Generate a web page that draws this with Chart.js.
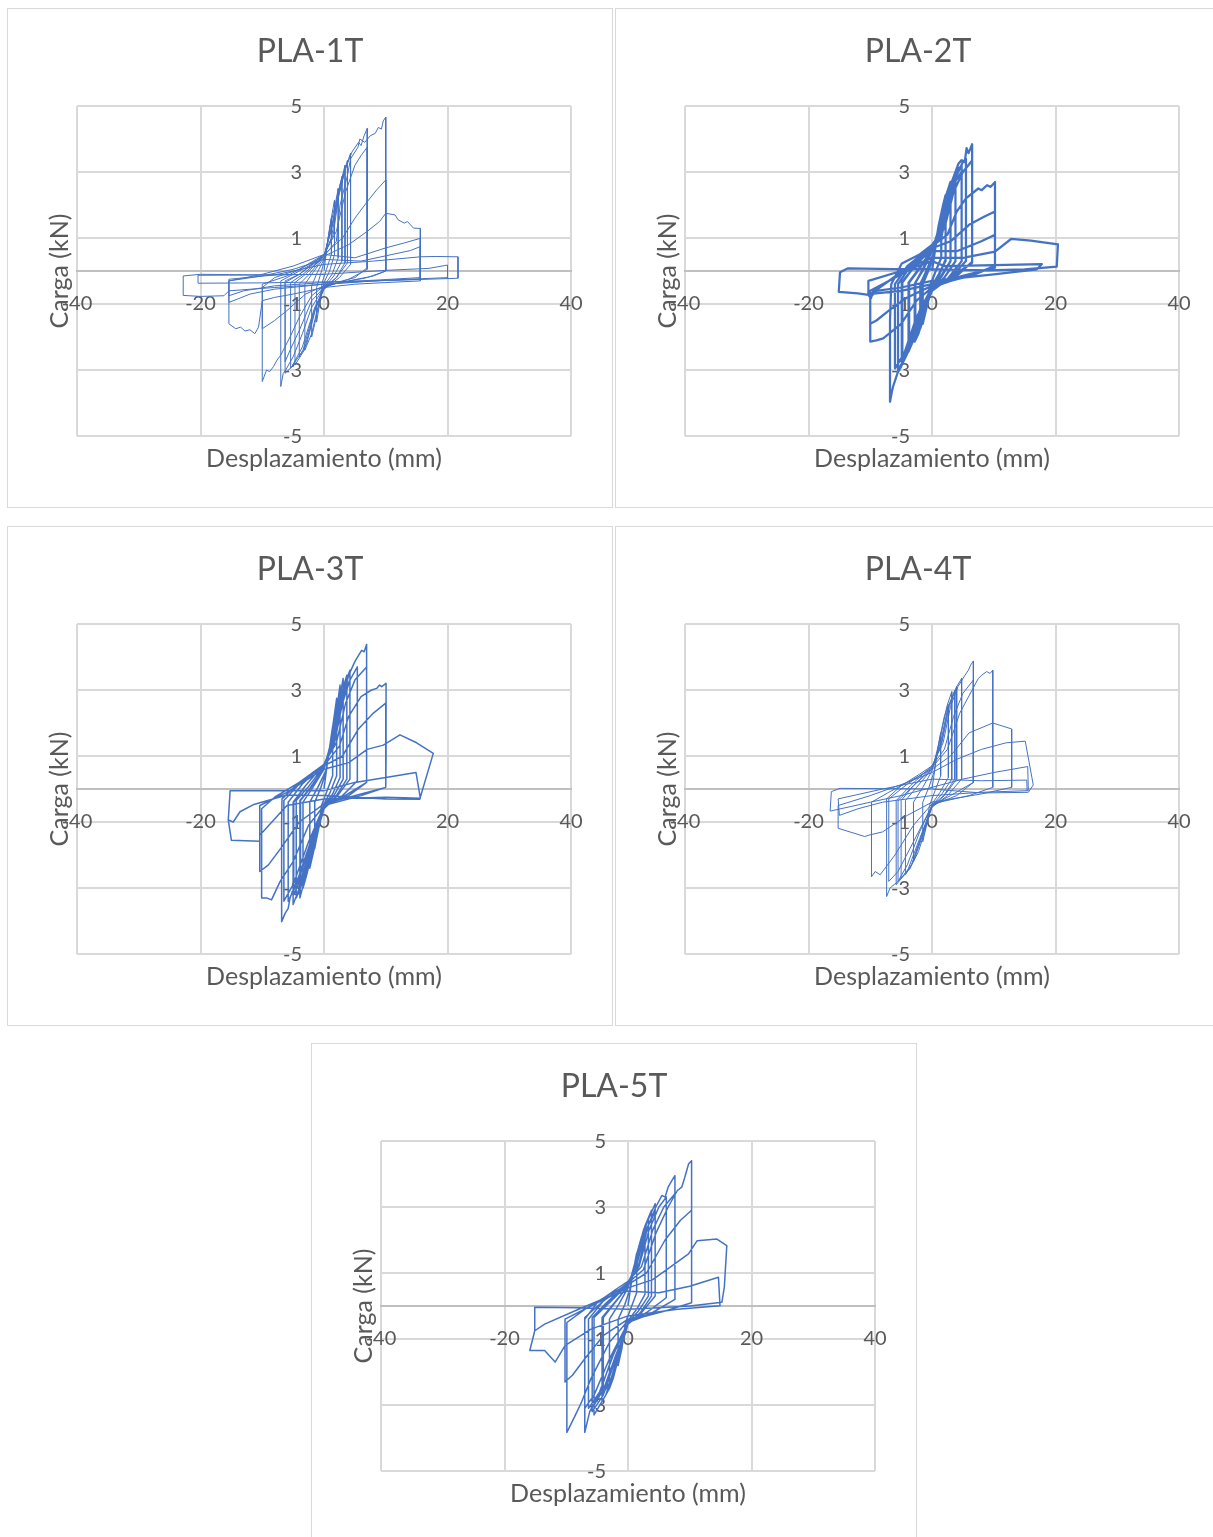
<!DOCTYPE html>
<html>
<head>
<meta charset="utf-8">
<script src="https://cdn.jsdelivr.net/npm/chart.js@4.4.1/dist/chart.umd.min.js"></script>
<style>
  html, body { margin: 0; padding: 0; background: #ffffff; }
  body { width: 1213px; height: 1537px; position: relative; overflow: hidden; }
  .frame { position: absolute; box-sizing: border-box; width: 606px; height: 500px; border: 1.5px solid #d9d9d9; background: #fff; }
  canvas.c { position: absolute; }
</style>
</head>
<body>
<script>
// ---------- data ----------
const chartTitles = ["PLA-1T", "PLA-2T", "PLA-3T", "PLA-4T", "PLA-5T"];
const xAxisTitle = "Desplazamiento (mm)";
const yAxisTitle = "Carga (kN)";
const xTicks = [-40, -20, 0, 20, 40];
const xTickLabels = ["-40", "-20", "0", "20", "40"];
const yTicks = [-5, -3, -1, 1, 3, 5];
const yTickLabels = ["-5", "-3", "-1", "1", "3", "5"];

// [displacement mm, load kN]
const pla1 = [
 [0,0],[0.6,0.9],[1.2,1.6],[1.2,0.5],[0.4,0.05],[-0.3,-0.35],[-0.8,-1.1],[-1.2,-1.55],[-1.2,-0.5],[-0.4,0],[0.2,0.4],
 [0.9,1.3],[1.7,2.15],[1.7,0.5],[0.9,0],[0,-0.35],[-0.8,-1],[-1.5,-1.6],[-2,-2],[-2,-0.45],[-1.1,-0.05],[0,0.35],
 [1.2,1.5],[1.9,2.1],[2.3,2.5],[2.3,0.4],[1.3,-0.1],[0,-0.45],[-1,-1.1],[-2,-1.9],[-3.1,-2.4],[-3.1,-0.4],[-1.8,-0.05],[0,0.4],
 [1.3,1.4],[2.2,2.3],[2.9,2.86],[2.9,0.3],[1.6,-0.15],[0,-0.5],[-1.3,-1.1],[-2.8,-2.2],[-4,-2.6],[-4,-0.4],[-2.4,-0.1],[0,0.45],
 [1.5,1.5],[2.5,2.5],[3.4,3.2],[3.4,0.25],[2,-0.2],[0,-0.55],[-1.5,-1.2],[-3.2,-2.4],[-4.7,-2.85],[-4.7,-0.35],[-3,-0.1],[0,0.45],
 [1.4,1.4],[2.6,2.6],[3.8,3.35],[3.8,0.25],[2,-0.2],[0,-0.5],[-1.6,-1.2],[-3.4,-2.4],[-5.4,-2.95],[-5.4,-0.35],[-3.4,-0.1],[0,0.45],
 [1.2,1],[2.3,2.2],[3.3,3],[4.3,3.57],[4.3,0.2],[2.5,-0.2],[0,-0.55],[-1.5,-1.1],[-3.5,-2.3],[-5.2,-2.9],[-6.3,-3.1],[-6.3,-0.35],[-4,-0.1],[0,0.5],
 [1.5,1.1],[2.4,2.3],[3.5,3.1],[4.5,3.6],[5.6,3.9],[6,3.8],[6.5,4.1],[7,4.32],[7,0.1],[5,-0.2],[2,-0.35],[0,-0.5],[-2,-1.1],[-3.5,-1.9],[-5,-2.6],[-6.2,-3],[-6.6,-3.1],[-7,-3.5],[-7,-0.3],[-5,-0.1],[-2,0.2],[0,0.5],
 [2,1.2],[3.5,2.4],[5,3.2],[6,3.5],[7,3.75],[7,0.05],[4,-0.25],[0,-0.5],[-2,-0.9],[-4,-1.8],[-5.5,-2.4],[-6.3,-2.75],[-6.3,-0.3],[-4,-0.1],[0,0.45],
 [2,0.9],[2.6,2],[3.8,2.9],[4.3,3.4],[5.5,3.75],[5.8,4],[6.6,3.9],[7.5,4.1],[8.3,4.17],[8.8,4.35],[9.3,4.3],[9.6,4.55],[10,4.66],[10,1.9],[10,0],[8,-0.15],[4,-0.3],[0,-0.45],[-2,-0.75],[-4,-1.4],[-5.5,-2],[-7,-2.55],[-7.6,-2.7],[-8.2,-2.9],[-8.8,-3.05],[-9.3,-3],[-10,-3.35],[-10,-0.5],[-8,-0.2],[-4,0.05],[0,0.5],
 [3,1],[5,1.6],[7,2.1],[8.5,2.45],[10,2.76],[10,0],[7,-0.2],[0,-0.45],[-3,-0.7],[-6,-1.2],[-8,-1.5],[-10,-1.75],[-10,-0.4],[-6,-0.15],[0,0.45],
 [4,0.8],[7,1.2],[9,1.5],[10,1.75],[11.5,1.7],[12,1.55],[13,1.45],[13.5,1.5],[14.5,1.3],[15.6,1.29],[15.6,-0.3],[10,-0.35],[5,-0.4],[0,-0.5],[-5,-0.7],[-8,-0.8],[-10,-0.9],[-10.6,-1.7],[-11.2,-1.9],[-12,-1.78],[-12.8,-1.82],[-13.5,-1.7],[-14.3,-1.75],[-15.4,-1.6],[-15.4,-0.3],[-10,-0.1],[-5,0.15],[0,0.5],
 [5,0.4],[10,0.7],[13,0.85],[15.6,0.99],[15.6,-0.25],[8,-0.3],[0,-0.4],[-8,-0.55],[-12,-0.7],[-14,-0.85],[-15.4,-0.95],[-15.4,-0.3],[-10,-0.15],[-5,0.05],[0,0.35],
 [6,0.3],[11,0.5],[14,0.62],[15.6,0.74],[15.6,-0.2],[8,-0.28],[0,-0.35],[-8,-0.45],[-13,-0.6],[-15.4,-0.75],[-15.4,-0.25],[-8,-0.12],[0,0.2],
 [8,0.3],[15.6,0.43],[18,0.44],[21.7,0.43],[21.7,-0.22],[15,-0.26],[8,-0.3],[0,-0.33],[-10,-0.36],[-20.4,-0.37],[-20.4,-0.13],[-10,-0.12],[0,-0.1],[10,0.02],[17,0.08],[20,0.18],[20,-0.2],[10,-0.28],[0,-0.4],[-8,-0.5],[-15.4,-0.6],[-16.2,-0.75],[-20,-0.77],[-22.8,-0.74],[-22.8,-0.15],[-20,-0.1],[-10,-0.12],[0,-0.1]
];

const pla2 = [
 [0,0],[0.7,0.9],[1.5,1.7],[1.5,0.4],[0.5,-0.05],[-0.4,-0.5],[-1,-1.2],[-1.5,-1.6],[-1.5,-0.4],[-0.5,0.05],[0.3,0.5],
 [1.1,1.4],[1.8,2],[2.2,2.3],[2.2,0.35],[1.2,-0.1],[0,-0.45],[-1,-1.2],[-1.9,-1.74],[-1.9,-0.4],[-0.8,0.05],[0.3,0.55],
 [1,1.2],[1.7,1.8],[2.2,2.05],[2.2,0.3],[1.1,-0.1],[0,-0.45],[-0.9,-1],[-1.8,-1.55],[-1.8,-0.35],[-0.7,0.05],[0.3,0.5],
 [1.3,1.5],[2.3,2.3],[3,2.7],[3,0.3],[1.6,-0.15],[0,-0.5],[-1.2,-1.3],[-2.2,-1.9],[-2.8,-2.14],[-2.8,-0.4],[-1.5,0.05],[0,0.6],
 [1.3,1.4],[2.2,2.1],[3,2.45],[3,0.3],[1.5,-0.15],[0,-0.5],[-1.1,-1.1],[-2.1,-1.7],[-2.7,-1.95],[-2.7,-0.35],[-1.4,0.05],[0,0.6],
 [1.2,1.2],[2.4,2.2],[3.2,2.7],[3.8,3],[3.8,0.3],[2,-0.2],[0,-0.55],[-1.5,-1.3],[-2.8,-2],[-3.8,-2.44],[-3.8,-0.35],[-2.2,0.05],[0,0.65],
 [1.3,1.2],[2.4,2],[3.2,2.5],[3.8,2.75],[3.8,0.3],[2,-0.2],[0,-0.55],[-1.4,-1.2],[-2.7,-1.85],[-3.7,-2.25],[-3.7,-0.35],[-2.1,0.05],[0,0.65],
 [1.5,1.2],[2.6,2.3],[3.6,2.9],[4.3,3.1],[4.8,3.2],[4.8,0.3],[2.5,-0.25],[0,-0.6],[-1.8,-1.4],[-3.5,-2.3],[-4.9,-2.85],[-4.9,-0.35],[-3,0.1],[0,0.7],
 [1.6,1.2],[2.7,2.1],[3.7,2.7],[4.8,3],[4.8,0.3],[2.5,-0.25],[0,-0.6],[-1.8,-1.3],[-3.5,-2.1],[-4.8,-2.6],[-4.8,-0.35],[-3,0.1],[0,0.7],
 [1.6,1.1],[2.8,2.2],[4,2.9],[5,3.3],[5.5,3.4],[5.5,0.3],[3,-0.2],[0,-0.55],[-2,-1.4],[-4,-2.5],[-5.5,-3],[-5.5,-0.4],[-3.5,0.15],[0,0.75],
 [1.5,1],[2.8,2.3],[3.8,3],[4.3,3.26],[4.8,3.36],[5.3,3.3],[5.6,3.72],[5.9,3.57],[6.2,3.7],[6.5,3.84],[6.5,1.5],[6.5,0.28],[4,-0.15],[0,-0.5],[-2,-1.2],[-3.8,-2.2],[-5,-2.9],[-5.6,-3.1],[-6.3,-3.5],[-6.5,-3.66],[-6.8,-3.96],[-6.8,-1.5],[-6.6,-0.4],[-4.9,0.23],[-2,0.5],[0,0.79],
 [2,1.3],[3.5,2.4],[5,3],[6.5,3.35],[6.5,0.25],[3,-0.2],[0,-0.5],[-2.5,-1.4],[-4.5,-2.5],[-6,-2.95],[-6,-0.4],[-4,0.15],[0,0.75],
 [2.5,1.1],[4,1.8],[5.5,2.2],[7.5,2.5],[8.05,2.45],[8.9,2.6],[9.5,2.55],[10.2,2.69],[10.2,1],[10.2,0.15],[7,-0.1],[3,-0.3],[0,-0.5],[-2.5,-0.9],[-5,-1.6],[-7.9,-2.04],[-9,-2.1],[-10,-2.14],[-10,-0.8],[-8.7,-0.53],[-4,0.1],[0,0.69],
 [3,0.9],[6,1.4],[8.5,1.65],[10.2,1.8],[10.2,0.15],[6,-0.15],[0,-0.45],[-4,-0.8],[-7,-1.2],[-9,-1.5],[-10,-1.6],[-10,-0.6],[-7,-0.3],[-3,0.2],[0,0.6],
 [4,0.6],[8,0.9],[10.2,1.1],[10.2,0.1],[5,-0.15],[0,-0.4],[-5,-0.6],[-10.3,-0.7],[-10.3,-0.3],[-5,0],[0,0.4],
 [5,0.4],[10.2,0.59],[12.8,0.97],[16,0.92],[20.4,0.81],[20.2,0.13],[15,0.05],[9,0.02],[3,0.04],[0,0.06],[-6,0.06],[-13.6,0.08],[-14.9,-0.04],[-15.1,-0.63],[-12,-0.68],[-10.3,-0.72],[-9.9,-0.83],[-9.5,-0.6],[-7,-0.3],[-3,0.1],[0,0.3],
 [2,0.15],[10,0.18],[17.8,0.21],[17,0.05],[10,-0.1],[0,-0.3],[-5,-0.5],[-9,-0.6],[-10,-0.7]
];

const pla3 = [
 [0,0],[0.7,1],[1.4,1.9],[1.4,0.4],[0.5,-0.05],[-0.4,-0.5],[-1,-1.3],[-1.5,-1.8],[-1.5,-0.4],[-0.5,0.05],[0.3,0.5],
 [1.2,1.6],[2.05,2.75],[2.05,0.4],[1,-0.1],[0,-0.45],[-1.2,-1.5],[-2.3,-2.4],[-2.3,-0.4],[-1,0.05],[0.3,0.55],
 [1.4,1.7],[2.2,2.6],[2.6,3.15],[2.6,0.35],[1.4,-0.15],[0,-0.5],[-1.5,-1.6],[-2.8,-2.6],[-3.4,-3],[-3.4,-0.4],[-1.8,0.05],[0,0.6],
 [1.5,1.7],[2.5,2.7],[3.1,3.35],[3.1,0.3],[1.6,-0.2],[0,-0.55],[-1.8,-1.8],[-3.2,-2.8],[-3.9,-3.3],[-3.9,-0.35],[-2.2,0.05],[0,0.65],
 [1.3,1.5],[2.2,2.5],[3.1,3.05],[3.1,0.3],[1.6,-0.2],[0,-0.55],[-1.7,-1.6],[-3.1,-2.6],[-3.8,-3],[-3.8,-0.35],[-2.1,0.05],[0,0.65],
 [1.6,1.6],[2.6,2.7],[3.3,3.2],[3.7,3.45],[3.7,0.3],[2,-0.2],[0,-0.6],[-2,-1.9],[-3.6,-2.9],[-4.5,-3.3],[-4.5,-0.35],[-2.6,0.05],[0,0.7],
 [1.6,1.5],[2.8,2.7],[3.6,3.3],[4.2,3.6],[4.2,0.3],[2.2,-0.2],[0,-0.6],[-2,-1.8],[-3.8,-2.9],[-5,-3.5],[-5,-0.4],[-3,0.1],[0,0.75],
 [1.5,1.4],[2.6,2.5],[3.6,3.1],[4.2,3.3],[4.2,0.3],[2.2,-0.2],[0,-0.6],[-2,-1.7],[-3.7,-2.7],[-4.9,-3.2],[-4.9,-0.4],[-3,0.1],[0,0.75],
 [1.7,1.4],[3,2.6],[4.2,3.3],[5.4,3.7],[5.4,0.25],[3,-0.2],[0,-0.55],[-2.2,-1.7],[-4.2,-2.8],[-5.8,-3.4],[-5.8,-0.4],[-3.5,0.15],[0,0.75],
 [1.8,1.5],[3,2.7],[4,3.45],[5,3.86],[5.3,3.96],[6.1,4.2],[6.5,4.16],[6.9,4.38],[6.9,1.2],[6.9,0.2],[4,-0.2],[0,-0.5],[-2,-1.5],[-4,-2.6],[-5.5,-3.3],[-5.8,-3.62],[-6.3,-3.77],[-6.86,-4.02],[-6.86,-1],[-6.8,-0.3],[-4,0.2],[0,0.75],
 [2,1.4],[3.5,2.6],[5,3.3],[6.9,3.7],[6.9,0.2],[3,-0.25],[0,-0.5],[-2.5,-1.6],[-5,-2.9],[-6.5,-3.4],[-6.5,-0.35],[-4,0.15],[0,0.7],
 [2.5,1.3],[4,2.2],[6,2.8],[7.7,3],[8.55,3.05],[9,3.15],[9.35,3.1],[10.05,3.2],[10.05,1],[10,0.05],[6,-0.2],[0,-0.5],[-2.5,-1.1],[-5,-2.2],[-7.1,-2.8],[-8.5,-3.36],[-9.3,-3.3],[-10.1,-3.3],[-10.1,-0.6],[-8,-0.25],[-4,0.2],[0,0.7],
 [3,1],[5.5,1.8],[8,2.3],[10,2.6],[10,0.05],[6,-0.15],[0,-0.45],[-4,-1],[-7,-1.8],[-9,-2.3],[-10.4,-2.5],[-10.4,-0.5],[-6,-0.1],[0,0.6],
 [4,0.8],[7,1.2],[9.6,1.33],[12.3,1.64],[15,1.4],[17.7,1.08],[15.5,-0.31],[10,-0.3],[5,-0.25],[0,-0.2],[-6,-0.18],[-11.5,-0.48],[-13.6,-0.69],[-14.7,-1],[-15.5,-0.94],[-15.2,-0.05],[-8,-0.05],[0,-0.05],
 [5,0.2],[10,0.35],[14.9,0.5],[15.6,-0.28],[10,-0.25],[0,-0.3],[-6,-0.5],[-10.4,-1.4],[-10.4,-1.58],[-15,-1.55],[-15.5,-0.94]
];

const pla4 = [
 [0,0],[0.7,0.9],[1.4,1.7],[1.4,0.4],[0.5,-0.05],[-0.4,-0.5],[-1,-1.2],[-1.5,-1.6],[-1.5,-0.4],[-0.5,0.05],[0.3,0.5],
 [1.2,1.5],[2,2.2],[2.65,2.55],[2.65,0.35],[1.3,-0.1],[0,-0.45],[-1.2,-1.3],[-2.2,-1.9],[-3,-2.2],[-3,-0.4],[-1.5,0.05],[0,0.55],
 [1.4,1.6],[2.4,2.5],[3.2,2.95],[3.2,0.3],[1.6,-0.15],[0,-0.5],[-1.5,-1.4],[-3,-2.2],[-4.3,-2.6],[-4.3,-0.35],[-2.5,0.05],[0,0.6],
 [1.5,1.4],[2.7,2.5],[3.7,3],[3.7,0.3],[1.9,-0.2],[0,-0.5],[-1.7,-1.4],[-3.3,-2.3],[-5,-2.7],[-5,-0.35],[-3,0.1],[0,0.6],
 [1.5,1.5],[2.6,2.5],[4,3.1],[4,0.3],[2,-0.2],[0,-0.55],[-1.8,-1.5],[-3.5,-2.4],[-5.5,-2.8],[-5.5,-0.35],[-3,0.1],[0,0.65],
 [1.6,1.4],[2.8,2.5],[4,3.1],[4.8,3.35],[4.8,0.3],[2.5,-0.2],[0,-0.55],[-2,-1.5],[-4,-2.5],[-5.8,-2.9],[-5.8,-0.35],[-3.5,0.1],[0,0.7],
 [1.8,1.4],[3,2.5],[4.2,3.1],[5.35,3.45],[5.9,3.6],[6.27,3.76],[6.7,3.88],[6.7,1],[6.7,0.2],[4,-0.2],[0,-0.5],[-2,-1.3],[-4,-2.3],[-5.5,-2.8],[-6.8,-3],[-7.35,-3.26],[-7.35,-0.3],[-5,0.1],[-2,0.45],[0,0.7],
 [2,1.2],[3.5,2.2],[5,2.9],[6.7,3.3],[6.7,0.2],[3,-0.2],[0,-0.5],[-3,-1.6],[-5.5,-2.5],[-7,-2.8],[-7,-0.3],[-4,0.15],[0,0.65],
 [2.5,1.2],[4.5,2.3],[6.5,3],[7.5,3.35],[8.05,3.45],[8.86,3.56],[9.4,3.5],[9.84,3.6],[9.84,2],[9.84,0.05],[6,-0.2],[0,-0.45],[-3,-1.1],[-6,-2],[-8.4,-2.6],[-9.2,-2.5],[-9.8,-2.66],[-9.8,-0.4],[-7,-0.1],[-3,0.3],[0,0.6],
 [3,1],[6,1.7],[9.84,2],[12.9,1.82],[12.9,0.05],[8,-0.15],[0,-0.4],[-4,-0.8],[-8,-1.3],[-10.05,-1.39],[-10.9,-1.44],[-15.2,-1.19],[-15.2,-0.5],[-10,-0.2],[-4,0.2],[0,0.5],
 [4,0.9],[8,1.2],[12,1.4],[15.1,1.45],[16.4,0.12],[15.6,-0.1],[8,-0.12],[0,0],[-8,0.01],[-14.9,0.02],[-16.3,-0.08],[-16.5,-0.67],[-10,-0.4],[-5,-0.2],[0,0.05],
 [5,0.3],[10,0.5],[15.5,0.68],[15.6,-0.05],[8,-0.1],[0,-0.2],[-8,-0.4],[-12,-0.6],[-15,-0.8],[-15.2,-0.3],[-8,0],[0,0.3],[8,0.25],[15.35,0.27],[15.4,-0.05]
];

const pla5 = [
 [0,0],[0.7,0.9],[1.4,1.6],[1.4,0.4],[0.5,-0.05],[-0.4,-0.5],[-1,-1.3],[-1.6,-1.8],[-1.6,-0.4],[-0.5,0.05],[0.3,0.5],
 [1.3,1.5],[2.2,2.1],[2.75,2.3],[2.75,0.35],[1.4,-0.1],[0,-0.45],[-1.3,-1.4],[-2.4,-2.2],[-3,-2.5],[-3,-0.4],[-1.5,0.05],[0,0.55],
 [1.4,1.5],[2.5,2.3],[3.3,2.65],[3.3,0.3],[1.7,-0.15],[0,-0.5],[-1.6,-1.6],[-3,-2.5],[-4.2,-2.9],[-4.2,-0.35],[-2.4,0.05],[0,0.6],
 [1.3,1.3],[2.4,2.1],[3.3,2.45],[3.3,0.3],[1.7,-0.15],[0,-0.5],[-1.5,-1.4],[-2.9,-2.3],[-4,-2.65],[-4,-0.35],[-2.3,0.05],[0,0.6],
 [1.5,1.4],[2.7,2.4],[3.8,2.9],[3.8,0.3],[2,-0.2],[0,-0.55],[-1.8,-1.7],[-3.6,-2.7],[-5.5,-3.3],[-5.5,-0.35],[-3,0.1],[0,0.65],
 [1.6,1.4],[3,2.5],[4.4,3.1],[4.4,0.3],[2.2,-0.2],[0,-0.55],[-2,-1.6],[-4,-2.7],[-5.8,-3.2],[-5.8,-0.35],[-3.5,0.1],[0,0.7],
 [1.5,1.3],[2.9,2.3],[4.4,2.85],[4.4,0.3],[2.2,-0.2],[0,-0.55],[-2,-1.5],[-3.9,-2.5],[-5.5,-3],[-5.5,-0.35],[-3.3,0.1],[0,0.7],
 [1.8,1.2],[3.4,2.3],[5,3],[6.2,3.3],[6.2,0.25],[3,-0.2],[0,-0.5],[-2.4,-1.5],[-4.6,-2.6],[-6.4,-3.1],[-6.4,-0.4],[-4,0.15],[0,0.7],
 [1.8,1.3],[3.2,2.4],[4.5,3],[5.5,3.35],[6,3.3],[6.5,3.6],[7.1,3.8],[7.6,3.95],[7.6,1],[7.6,0.2],[4,-0.2],[0,-0.5],[-2.5,-1.5],[-4.5,-2.6],[-6.2,-3.2],[-7,-3.83],[-7,-0.4],[-5,0.1],[-2,0.5],[0,0.75],
 [2.2,1.2],[4,2.3],[5.8,3],[7.6,3.4],[7.6,0.2],[3.5,-0.25],[0,-0.5],[-3,-1.6],[-5.5,-2.7],[-7,-3.1],[-7,-0.35],[-4,0.15],[0,0.7],
 [2.5,1.1],[4.5,2.2],[6.5,3],[8,3.5],[8.7,3.6],[9.2,3.9],[9.5,4.1],[9.8,4.3],[10.3,4.4],[10.3,1.5],[10.3,0.1],[6,-0.15],[0,-0.45],[-3,-1.1],[-6,-2.2],[-7.5,-2.9],[-8.5,-3.3],[-9.9,-3.83],[-9.9,-0.5],[-7,-0.1],[-3,0.35],[0,0.65],
 [3,1],[6,2],[8.5,2.6],[10.3,2.9],[10.3,0.1],[6,-0.15],[0,-0.4],[-4,-0.9],[-7,-1.6],[-9,-2.1],[-10.2,-2.3],[-10.2,-0.4],[-6,0],[0,0.55],
 [4,0.8],[7,1.2],[9.8,1.58],[11.2,1.98],[14.4,2.03],[16,1.83],[15.6,0.57],[15.2,0.11],[10,0],[5,-0.05],[0,-0.1],[-8,-0.05],[-15.1,-0.04],[-15.1,-0.75],[-13.5,-0.55],[-8,-0.1],[-3,0.3],[0,0.45],
 [5,0.4],[10,0.6],[14.65,0.87],[14.9,0.01],[8,-0.1],[0,-0.3],[-6,-0.7],[-10.2,-1.2],[-11.8,-1.7],[-13.5,-1.35],[-15.9,-1.35],[-15.1,-0.75]
];

const seriesData = [pla1, pla2, pla3, pla4, pla5];
const lineWidths = [1, 2.25, 1.5, 1, 1.5];

// ---------- layout ----------
const panelPos = [[7, 8], [615, 8], [7, 526], [615, 526], [311, 1043]];
const PW = 606, PH = 500;
const FONT = 'Lato, "Open Sans", "Liberation Sans", sans-serif';
const TEXT = '#595959';

const axisTextPlugin = {
  id: 'axisText',
  beforeDatasetsDraw(chart, args, opts) {
    const ctx = chart.ctx;
    const xs = chart.scales.x, ys = chart.scales.y;
    const ca = chart.chartArea;
    const x0 = xs.getPixelForValue(0), y0 = ys.getPixelForValue(0);
    ctx.save();
    ctx.fillStyle = TEXT;
    // tick labels
    ctx.font = '20px ' + FONT;
    ctx.textBaseline = 'middle';
    ctx.textAlign = 'center';
    xTicks.forEach((v, i) => ctx.fillText(xTickLabels[i], xs.getPixelForValue(v), y0 + 33));
    ctx.textAlign = 'right';
    yTicks.forEach((v, i) => ctx.fillText(yTickLabels[i], x0 - 22, ys.getPixelForValue(v) + 1));
    // chart title
    ctx.textAlign = 'center';
    ctx.font = '32px ' + FONT;
    ctx.fillText(opts.title, chart.width / 2, 44);
    // axis titles
    ctx.font = '25px ' + FONT;
    ctx.fillText(xAxisTitle, (ca.left + ca.right) / 2, ca.bottom + 23);
    ctx.translate(53, (ca.top + ca.bottom) / 2);
    ctx.rotate(-Math.PI / 2);
    ctx.fillText(yAxisTitle, 0, 0);
    ctx.restore();
  }
};

chartTitles.forEach((title, i) => {
  const [left, top] = panelPos[i];
  const frame = document.createElement('div');
  frame.className = 'frame';
  frame.style.left = left + 'px';
  frame.style.top = top + 'px';
  document.body.appendChild(frame);
  const cv = document.createElement('canvas');
  cv.className = 'c';
  cv.width = PW; cv.height = PH;
  cv.style.left = left + 'px';
  cv.style.top = top + 'px';
  cv.style.width = PW + 'px';
  cv.style.height = PH + 'px';
  document.body.appendChild(cv);

  new Chart(cv.getContext('2d'), {
    type: 'scatter',
    data: {
      datasets: [{
        data: seriesData[i].map(p => ({ x: p[0], y: p[1] })),
        showLine: true,
        borderColor: '#4472C4',
        backgroundColor: '#4472C4',
        borderWidth: lineWidths[i],
        pointRadius: 0,
        tension: 0,
        fill: false,
        borderJoinStyle: 'round'
      }]
    },
    options: {
      responsive: false,
      animation: false,
      events: [],
      devicePixelRatio: 1,
      layout: { padding: { left: 70, top: 98, right: 42, bottom: 72 } },
      plugins: {
        legend: { display: false },
        tooltip: { enabled: false },
        title: { display: false },
        axisText: { title: title }
      },
      scales: {
        x: {
          type: 'linear', min: -40, max: 40,
          position: { y: 0 },
          afterBuildTicks: s => { s.ticks = xTicks.map(v => ({ value: v })); },
          grid: { color: '#d9d9d9', lineWidth: 2, drawTicks: false },
          border: { display: true, color: '#bfbfbf', width: 2 },
          ticks: { display: false }
        },
        y: {
          type: 'linear', min: -5, max: 5,
          position: { x: 0 },
          afterBuildTicks: s => { s.ticks = yTicks.map(v => ({ value: v })); },
          grid: { color: '#d9d9d9', lineWidth: 2, drawTicks: false },
          border: { display: true, color: '#d9d9d9', width: 2 },
          ticks: { display: false }
        }
      }
    },
    plugins: [axisTextPlugin]
  });
});
</script>
</body>
</html>
